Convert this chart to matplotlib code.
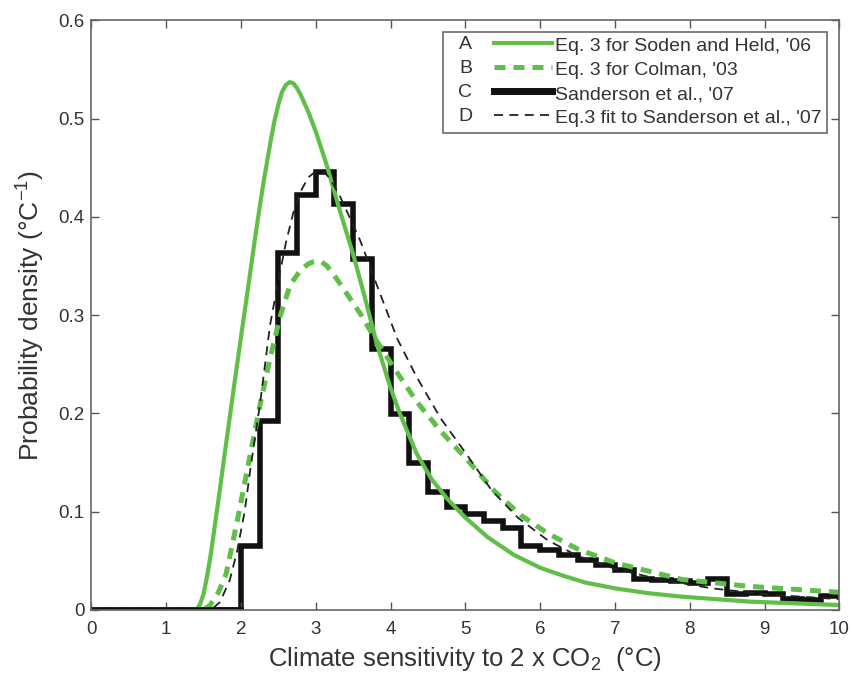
import numpy as np
import matplotlib
matplotlib.use('Agg')
from matplotlib import pyplot as plt
from matplotlib.legend_handler import HandlerLine2D
from matplotlib.text import Text

plt.rcParams['font.family'] = ['Liberation Sans', 'DejaVu Sans']

# Curve A: Eq. 3 for Soden and Held, '06
a_x = [0, 1.0, 1.4, 1.45, 1.5, 1.55, 1.6, 1.7, 1.8, 1.9, 2.0, 2.1, 2.2, 2.3,
       2.4, 2.45, 2.5, 2.55, 2.6, 2.65, 2.7, 2.75, 2.8, 2.9, 3.0, 3.15, 3.3,
       3.5, 3.65, 3.82, 4.0, 4.13, 4.35, 4.55, 4.76, 5.0, 5.3, 5.65, 6.0,
       6.3, 6.6, 7.0, 7.45, 7.9, 8.8, 10.0]
a_y = [0, 0, 0, 0.005, 0.016, 0.035, 0.058, 0.112, 0.168, 0.223, 0.277,
       0.33, 0.384, 0.434, 0.478, 0.498, 0.514, 0.527, 0.534, 0.537, 0.536,
       0.531, 0.524, 0.507, 0.487, 0.452, 0.412, 0.362, 0.32, 0.27, 0.226,
       0.199, 0.159, 0.133, 0.113, 0.094, 0.074, 0.056, 0.043, 0.035, 0.028,
       0.022, 0.017, 0.0135, 0.0085, 0.005]

# Curve B: Eq. 3 for Colman, '03
b_x = [0, 1.5, 1.59, 1.7, 1.8, 1.95, 2.13, 2.26, 2.39, 2.53, 2.66, 2.8, 2.9,
       2.96, 3.02, 3.08, 3.15, 3.28, 3.45, 3.6, 3.77, 4.04, 4.35, 4.67, 4.84,
       5.0, 5.4, 5.75, 6.1, 6.5, 7.0, 7.9, 8.8, 10.0]
b_y = [0, 0, 0.005, 0.018, 0.036, 0.09, 0.16, 0.21, 0.256, 0.3, 0.331,
       0.346, 0.352, 0.354, 0.355, 0.354, 0.35, 0.337, 0.318, 0.301, 0.279,
       0.247, 0.212, 0.182, 0.168, 0.155, 0.12, 0.096, 0.078, 0.062, 0.048,
       0.031, 0.024, 0.018]

# Histogram C: Sanderson et al., '07 (bin edges every 0.25)
c_edges = np.arange(0, 10.01, 0.25)
c_vals = [0, 0, 0, 0, 0, 0, 0, 0,
          0.065, 0.192, 0.363, 0.422, 0.446, 0.413, 0.357, 0.266,
          0.199, 0.150, 0.120, 0.105, 0.098, 0.091, 0.083, 0.065,
          0.061, 0.056, 0.051, 0.046, 0.041, 0.031, 0.030, 0.029,
          0.027, 0.032, 0.016, 0.017, 0.016, 0.011, 0.010, 0.014]

# Curve D: Eq.3 fit to Sanderson et al., '07
d_x = [0, 1.6, 1.72, 1.85, 1.95, 2.05, 2.13, 2.26, 2.39, 2.5, 2.6, 2.7, 2.8,
       2.9, 2.98, 3.05, 3.12, 3.2, 3.33, 3.45, 3.6, 3.82, 4.09, 4.35, 4.67,
       5.02, 5.35, 5.7, 6.1, 6.5, 7.0, 7.6, 8.3, 9.0, 10.0]
d_y = [0, 0, 0.008, 0.03, 0.06, 0.1, 0.145, 0.212, 0.29, 0.335, 0.373,
       0.404, 0.426, 0.44, 0.445, 0.447, 0.445, 0.438, 0.42, 0.4, 0.375,
       0.33, 0.276, 0.237, 0.195, 0.158, 0.122, 0.094, 0.071, 0.055, 0.042,
       0.031, 0.022, 0.016, 0.011]

letters = ['A', 'B', 'C', 'D']
labels = ["Eq. 3 for Soden and Held, '06", "Eq. 3 for Colman, '03",
          "Sanderson et al., '07", "Eq.3 fit to Sanderson et al., '07"]

green = '#5fbf48'
txt = '#333333'


class LetterHandler(HandlerLine2D):
    # legend handle with a letter in front of the line sample
    def __init__(self, letter, gap, **kw):
        super().__init__(**kw)
        self.letter = letter
        self.gap = gap

    def create_artists(self, legend, orig_handle, xdescent, ydescent,
                       width, height, fontsize, trans):
        g = self.gap * fontsize
        arts = super().create_artists(legend, orig_handle, xdescent - g,
                                      ydescent - 0.12 * fontsize, width - g,
                                      height, fontsize, trans)
        t = Text(-xdescent + 0.85 * fontsize, height / 2 - ydescent,
                 self.letter, ha='center', va='center', fontsize=fontsize,
                 color=txt, family=['Liberation Sans', 'DejaVu Sans'])
        t.set_transform(trans)
        return list(arts) + [t]


fig = plt.figure(figsize=(8.53, 6.74), dpi=100)
ax = fig.add_axes([0.107, 0.095, 0.877, 0.875])

la, = ax.plot(a_x, a_y, color=green, lw=3.0)
lb, = ax.plot(b_x, b_y, color=green, lw=3.6, dashes=(2.2, 1.6))
ax.stairs(c_vals, c_edges, color='#111111', lw=4.0, baseline=None)
ld, = ax.plot(d_x, d_y, color='#222222', lw=1.3, dashes=(5, 3.5))
ax.plot(c_edges[:9], np.zeros(9), color='#111111', lw=4.0)
lc, = ax.plot([], [], color='#111111', lw=5)

ax.set_xlim(0, 10)
ax.set_ylim(0, 0.6)
ax.set_xticks(range(0, 11))
ax.set_yticks([0, 0.1, 0.2, 0.3, 0.4, 0.5, 0.6])
ax.set_yticklabels(['0', '0.1', '0.2', '0.3', '0.4', '0.5', '0.6'])
ax.tick_params(direction='in', top=True, right=True, length=5.5, width=1,
               color='#555555', labelsize=13.5, labelcolor=txt)
ax.tick_params(axis='x', pad=8)
ax.tick_params(axis='y', pad=5)
for s in ax.spines.values():
    s.set_color('#666666')
    s.set_linewidth(1.2)

ax.set_xlabel('Climate sensitivity to 2 x CO$_\\mathregular{2}$  (°C)',
              fontsize=18.5, color=txt, labelpad=5)
ax.set_ylabel('Probability density (°C$^\\mathregular{-1}$)',
              fontsize=19, color=txt, labelpad=9)

handles = [la, lb, lc, ld]
leg = ax.legend(handles, labels, loc='upper right',
                bbox_to_anchor=(0.984, 0.98), fontsize=14, frameon=True,
                fancybox=False, edgecolor='#444444', handlelength=5.3,
                handletextpad=0.15, labelspacing=0.32, borderpad=0.3,
                borderaxespad=0, labelcolor=txt,
                handler_map={h: LetterHandler(l, 2.3)
                             for h, l in zip(handles, letters)})
leg.get_frame().set_linewidth(1.2)

plt.savefig('out.png', dpi=100)
